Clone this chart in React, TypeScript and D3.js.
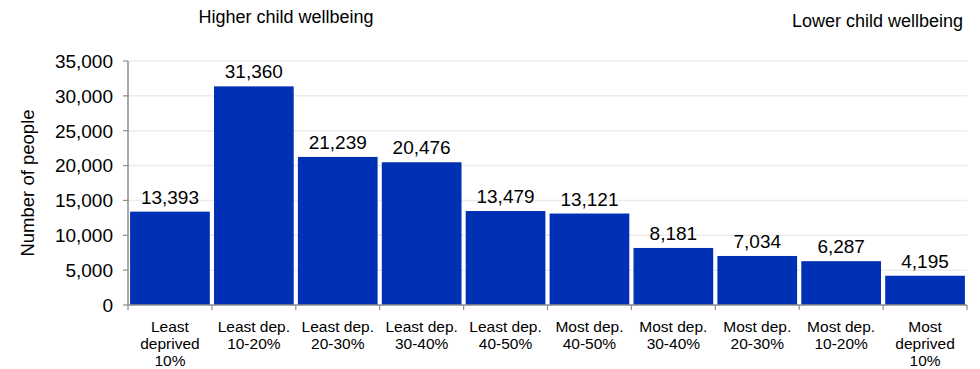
import React from "react";
import * as d3 from "d3";

const categories: string[][] = [
  ["Least", "deprived", "10%"],
  ["Least dep.", "10-20%"],
  ["Least dep.", "20-30%"],
  ["Least dep.", "30-40%"],
  ["Least dep.", "40-50%"],
  ["Most dep.", "40-50%"],
  ["Most dep.", "30-40%"],
  ["Most dep.", "20-30%"],
  ["Most dep.", "10-20%"],
  ["Most", "deprived", "10%"],
];
const values: number[] = [13393, 31360, 21239, 20476, 13479, 13121, 8181, 7034, 6287, 4195];
const yTicks: number[] = [0, 5000, 10000, 15000, 20000, 25000, 30000, 35000];

const W = 980;
const H = 369;
const left = 128;
const right = 967;
const top = 61;
const bottom = 305;
const font = "'Liberation Sans', Arial, sans-serif";

export default function App() {
  const idx = categories.map((_, i) => String(i));
  const x = d3.scaleBand<string>().domain(idx).range([left, right]).paddingInner(0.05).paddingOuter(0.025);
  const y = d3.scaleLinear().domain([0, 35000]).range([bottom, top]);
  const fmt = d3.format(",");
  const bounds = d3.range(categories.length + 1).map((i) => left + (right - left) * (i / categories.length));

  return (
    <svg width={W} height={H} style={{ position: "absolute", left: 0, top: 0, background: "#fff" }}>
      <rect width={W} height={H} fill="#fff" />
      {yTicks.map((t) => (
        <g key={t}>
          {t > 0 && <line x1={left} x2={right} y1={y(t)} y2={y(t)} stroke="#ececec" strokeWidth={1.5} />}
          <line x1={left - 5} x2={left} y1={y(t)} y2={y(t)} stroke="#8c8c8c" strokeWidth={1.2} />
          <text x={left - 15} y={y(t)} dy="0.36em" textAnchor="end" fontFamily={font} fontSize={19} fill="#000">
            {fmt(t)}
          </text>
        </g>
      ))}
      {values.map((v, i) => (
        <g key={i}>
          <rect
            x={x(String(i))!}
            y={y(v)}
            width={x.bandwidth()}
            height={bottom - y(v)}
            fill="#0031b4"
          />
          <text
            x={x(String(i))! + x.bandwidth() / 2}
            y={y(v) - 8}
            textAnchor="middle"
            fontFamily={font}
            fontSize={19}
            fill="#000"
          >
            {fmt(v)}
          </text>
        </g>
      ))}
      <line x1={left} x2={left} y1={top} y2={bottom} stroke="#8c8c8c" strokeWidth={1.5} />
      <line x1={left} x2={right} y1={bottom} y2={bottom} stroke="#8c8c8c" strokeWidth={1.5} />
      {bounds.map((b, i) => (
        <line key={i} x1={b} x2={b} y1={bottom} y2={bottom + 5} stroke="#8c8c8c" strokeWidth={1.2} />
      ))}
      {categories.map((lines, i) => (
        <text
          key={i}
          x={x(String(i))! + x.bandwidth() / 2}
          y={332}
          textAnchor="middle"
          fontFamily={font}
          fontSize={15.5}
          fill="#000"
        >
          {lines.map((l, j) => (
            <tspan key={j} x={x(String(i))! + x.bandwidth() / 2} dy={j === 0 ? 0 : 16.8}>
              {l}
            </tspan>
          ))}
        </text>
      ))}
      <text
        transform={`translate(28,${(top + bottom) / 2}) rotate(-90)`}
        textAnchor="middle"
        dy="0.35em"
        fontFamily={font}
        fontSize={18.5}
        fill="#000"
      >
        Number of people
      </text>
      <text x={286} y={23} textAnchor="middle" fontFamily={font} fontSize={18} fill="#000">
        Higher child wellbeing
      </text>
      <text x={963} y={27} textAnchor="end" fontFamily={font} fontSize={18} fill="#000">
        Lower child wellbeing
      </text>
    </svg>
  );
}
